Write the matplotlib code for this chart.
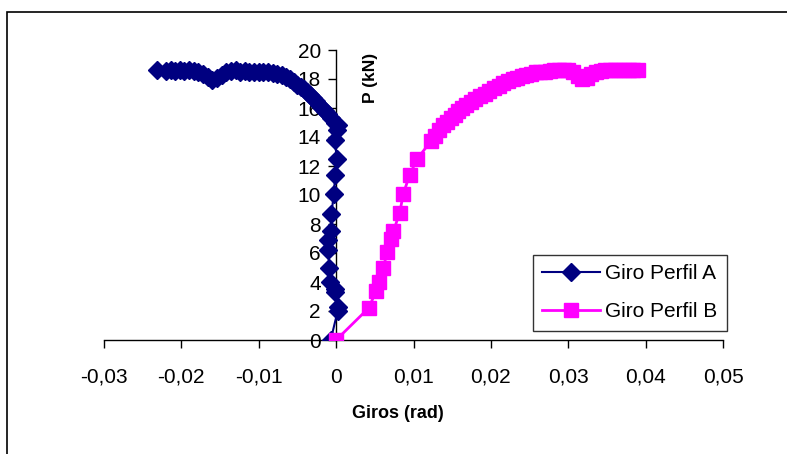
import matplotlib
matplotlib.use("Agg")
import matplotlib.pyplot as plt
from matplotlib.patches import Rectangle

plt.rcParams['font.family'] = ['Liberation Sans', 'DejaVu Sans']

# Rotation (rad) vs load (kN), profile A
giro_a = [-0.0007, 0.0002, 0.0003, -0.0002, -0.0001, -0.0008, -0.0009, -0.0010,
          -0.0011, -0.0006, -0.0006, -0.0003, -0.0001, 0.0001, -0.0002, 0.0001,
          0.0002, -0.0002, -0.0006, -0.0010, -0.0014, -0.0018, -0.0022, -0.0026,
          -0.0030, -0.0034, -0.0038, -0.0042, -0.0046, -0.0050, -0.0055, -0.0060,
          -0.0065, -0.0070, -0.0076, -0.0082, -0.0088, -0.0094, -0.0100, -0.0106,
          -0.0112, -0.0118, -0.0124, -0.0130, -0.0136, -0.0142, -0.0148, -0.0154,
          -0.0160, -0.0166, -0.0172, -0.0178, -0.0184, -0.0190, -0.0196, -0.0202,
          -0.0208, -0.0214, -0.0220, -0.0232]
carga_a = [0.0, 2.0, 2.3, 3.3, 3.5, 4.0, 5.0, 6.2,
           6.9, 7.5, 8.7, 10.1, 11.4, 12.5, 13.8, 14.5,
           14.8, 15.0, 15.3, 15.6, 15.8, 16.0, 16.2, 16.45,
           16.7, 16.9, 17.1, 17.3, 17.45, 17.6, 17.8, 18.0,
           18.15, 18.25, 18.35, 18.4, 18.45, 18.5, 18.45, 18.5,
           18.45, 18.55, 18.5, 18.6, 18.55, 18.45, 18.3, 18.1,
           17.95, 18.15, 18.35, 18.5, 18.55, 18.6, 18.55, 18.65,
           18.55, 18.6, 18.55, 18.65]

# Rotation (rad) vs load (kN), profile B
giro_b = [0.0, 0.0042, 0.0052, 0.0056, 0.0061, 0.0066, 0.0071, 0.0074,
          0.0082, 0.0087, 0.0095, 0.0105, 0.0123, 0.0128, 0.0133, 0.0138,
          0.0143, 0.0148, 0.0153, 0.0158, 0.0163, 0.0168, 0.0174, 0.0180,
          0.0186, 0.0192, 0.0198, 0.0204, 0.0210, 0.0216, 0.0222, 0.0228,
          0.0234, 0.0240, 0.0246, 0.0252, 0.0258, 0.0264, 0.0270, 0.0276,
          0.0282, 0.0288, 0.0294, 0.0300, 0.0306, 0.0312, 0.0318, 0.0324,
          0.0330, 0.0336, 0.0342, 0.0348, 0.0354, 0.0360, 0.0366, 0.0372,
          0.0378, 0.0384, 0.0390]
carga_b = [0.0, 2.2, 3.4, 4.0, 4.95, 6.1, 7.0, 7.5,
           8.75, 10.1, 11.4, 12.5, 13.75, 14.1, 14.5, 14.8,
           15.05, 15.3, 15.55, 15.8, 16.0, 16.2, 16.4, 16.6,
           16.8, 17.0, 17.2, 17.35, 17.5, 17.7, 17.85, 18.0,
           18.1, 18.2, 18.3, 18.35, 18.45, 18.5, 18.5, 18.55,
           18.6, 18.6, 18.65, 18.6, 18.45, 18.2, 18.0, 18.1,
           18.35, 18.5, 18.55, 18.6, 18.65, 18.6, 18.65, 18.6,
           18.65, 18.6, 18.65]

x_ticks = [-0.03, -0.02, -0.01, 0.0, 0.01, 0.02, 0.03, 0.04, 0.05]
x_labels = ['-0,03', '-0,02', '-0,01', '0', '0,01', '0,02', '0,03', '0,04', '0,05']
y_ticks = [0, 2, 4, 6, 8, 10, 12, 14, 16, 18, 20]

fig = plt.figure(figsize=(7.87, 4.54), dpi=100)
fig.patches.append(Rectangle((7 / 787, -0.1), 1.2, 1 - 12 / 454 + 0.1,
                             transform=fig.transFigure, fill=False,
                             edgecolor='black', linewidth=1.2))

ax = fig.add_axes([104 / 787, 114 / 454, 619 / 787, 290 / 454])
ax.plot(giro_a, carga_a, color='#000080', marker='D', markersize=9.5,
        linewidth=1.5, label='Giro Perfil A', zorder=3)
ax.plot(giro_b, carga_b, color='#FF00FF', marker='s', markersize=9.5,
        linewidth=2.0, label='Giro Perfil B', zorder=3)

ax.set_xlim(-0.03, 0.05)
ax.set_ylim(0, 20)
ax.spines['left'].set_position(('data', 0))
ax.spines['bottom'].set_position(('data', 0))
ax.spines['top'].set_visible(False)
ax.spines['right'].set_visible(False)
for s in ('left', 'bottom'):
    ax.spines[s].set_linewidth(1.0)
    ax.spines[s].set_zorder(1)

ax.set_xticks(x_ticks)
ax.set_xticklabels(x_labels)
ax.set_yticks(y_ticks)
ax.tick_params(axis='both', direction='out', length=6, width=1.0,
               labelsize=15, colors='black')
ax.tick_params(axis='x', pad=14)
ax.tick_params(axis='y', pad=5)

fig.text(398 / 787, 1 - 413 / 454, 'Giros (rad)', ha='center', va='center',
         fontsize=13, fontweight='bold')
fig.text(370 / 787, 1 - 78 / 454, 'P (kN)', ha='center', va='center',
         rotation=90, fontsize=12.5, fontweight='bold')

leg = ax.legend(loc='upper left', bbox_to_anchor=(533 / 787, 1 - 255 / 454),
                bbox_transform=fig.transFigure, fontsize=15, frameon=True,
                fancybox=False, shadow=False, edgecolor='black',
                handlelength=2.75, borderpad=0.45, labelspacing=0.9,
                handletextpad=0.25, borderaxespad=0)
leg.get_frame().set_linewidth(1.0)

fig.savefig('out.png', dpi=100)
